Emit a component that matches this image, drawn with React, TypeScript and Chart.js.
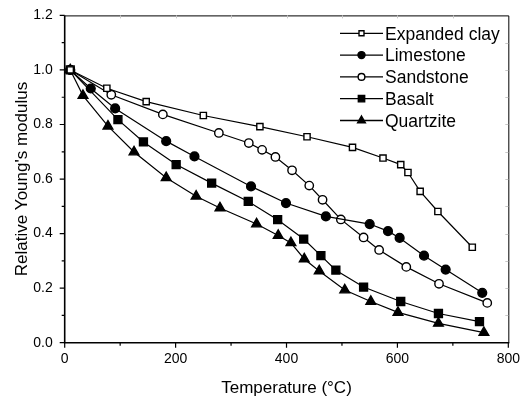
import React, { useEffect, useRef } from "react";
import { Chart, registerables } from "chart.js";

Chart.register(...registerables);

const FONT = "'Liberation Sans', Arial, sans-serif";

const xTickLabels = ["0", "200", "400", "600", "800"];
const yTickLabels = ["0.0", "0.2", "0.4", "0.6", "0.8", "1.0", "1.2"];

const seriesNames = ["Expanded clay", "Limestone", "Sandstone", "Basalt", "Quartzite"];

const clayT = [10, 76, 147, 250, 352, 437, 519, 574, 606, 619, 641, 673, 735];
const clayE = [1.0, 0.933, 0.884, 0.833, 0.792, 0.755, 0.716, 0.677, 0.653, 0.624, 0.555, 0.481, 0.35];

const limeT = [10, 47, 91, 183, 234, 336, 399, 471, 550, 583, 604, 648, 687, 753];
const limeE = [1.0, 0.932, 0.859, 0.739, 0.683, 0.573, 0.512, 0.463, 0.435, 0.409, 0.384, 0.319, 0.268, 0.183];

const sandT = [10, 84, 177, 278, 332, 356, 380, 410, 441, 465, 498, 539, 567, 616, 675, 762];
const sandE = [1.0, 0.909, 0.837, 0.769, 0.732, 0.707, 0.681, 0.632, 0.576, 0.524, 0.452, 0.386, 0.34, 0.278, 0.216, 0.146];

const basaltT = [10, 96, 142, 201, 265, 331, 384, 431, 462, 489, 539, 606, 674, 748];
const basaltE = [1.0, 0.818, 0.736, 0.653, 0.585, 0.518, 0.451, 0.38, 0.319, 0.266, 0.204, 0.151, 0.107, 0.077];

const quartzT = [10, 33, 78, 125, 183, 237, 280, 346, 385, 408, 432, 459, 505, 552, 601, 674, 756];
const quartzE = [1.0, 0.906, 0.794, 0.699, 0.605, 0.537, 0.494, 0.435, 0.393, 0.366, 0.307, 0.263, 0.193, 0.151, 0.111, 0.071, 0.037];

const toPts = (xs: number[], ys: number[]) => xs.map((x, i) => ({ x, y: ys[i] }));

type Marker = { style: string; filled: boolean; r: number };
const markers: Marker[] = [
  { style: "rect", filled: false, r: 4.4 },
  { style: "circle", filled: true, r: 4.4 },
  { style: "circle", filled: false, r: 4.2 },
  { style: "rect", filled: true, r: 5.6 },
  { style: "triangle", filled: true, r: 5.6 },
];

function drawMarker(ctx: CanvasRenderingContext2D, m: Marker, x: number, y: number) {
  ctx.save();
  ctx.beginPath();
  if (m.style === "rect") {
    const s = Math.SQRT1_2 * m.r;
    ctx.rect(x - s, y - s, 2 * s, 2 * s);
  } else if (m.style === "circle") {
    ctx.arc(x, y, m.r, 0, Math.PI * 2);
  } else {
    const r = m.r;
    ctx.moveTo(x, y - r);
    ctx.lineTo(x + r * Math.cos(Math.PI / 6), y + r / 2);
    ctx.lineTo(x - r * Math.cos(Math.PI / 6), y + r / 2);
    ctx.closePath();
  }
  ctx.fillStyle = m.filled ? "#000" : "#fff";
  ctx.fill();
  ctx.lineWidth = 1.4;
  ctx.strokeStyle = "#000";
  ctx.stroke();
  ctx.restore();
}

const framePlugin = {
  id: "frame",
  afterDraw(chart: any) {
    const { ctx, chartArea: a, scales } = chart;
    const xs = scales.x;
    const ys = scales.y;
    ctx.save();
    ctx.strokeStyle = "#000";
    ctx.lineWidth = 1;
    ctx.beginPath();
    ctx.moveTo(a.left, a.top + 0.5);
    ctx.lineTo(a.right + 0.5, a.top + 0.5);
    ctx.lineTo(a.right + 0.5, a.bottom);
    ctx.stroke();
    ctx.strokeStyle = "#c8c8c8";
    ctx.beginPath();
    for (let v = 100; v < 800; v += 100) {
      const px = Math.round(xs.getPixelForValue(v)) + 0.5;
      ctx.moveTo(px, a.top);
      ctx.lineTo(px, a.top + 3);
    }
    for (let k = 1; k < 12; k++) {
      const py = Math.round(ys.getPixelForValue(k / 10)) + 0.5;
      ctx.moveTo(a.right, py);
      ctx.lineTo(a.right - 3, py);
    }
    ctx.stroke();
    ctx.strokeStyle = "#000";
    ctx.lineWidth = 1.6;
    ctx.beginPath();
    ctx.moveTo(a.left, a.top);
    ctx.lineTo(a.left, a.bottom);
    ctx.lineTo(a.right + 1, a.bottom);
    ctx.stroke();
    ctx.lineWidth = 1.2;
    ctx.beginPath();
    for (let v = 0; v <= 800; v += 100) {
      const px = xs.getPixelForValue(v);
      const len = v % 200 === 0 ? 5 : 3;
      ctx.moveTo(px, a.bottom);
      ctx.lineTo(px, a.bottom + len);
    }
    for (let k = 0; k <= 12; k++) {
      const py = ys.getPixelForValue(k / 10);
      const len = k % 2 === 0 ? 5 : 3;
      ctx.moveTo(a.left, py);
      ctx.lineTo(a.left - len, py);
    }
    ctx.stroke();

    const rowY = [33.3, 55.1, 76.9, 98.7, 120.5];
    ctx.font = `17.5px ${FONT}`;
    ctx.textBaseline = "alphabetic";
    ctx.textAlign = "left";
    ctx.fillStyle = "#000";
    seriesNames.forEach((name, i) => {
      const y = rowY[i];
      ctx.strokeStyle = "#000";
      ctx.lineWidth = 1.3;
      ctx.beginPath();
      ctx.moveTo(340, y);
      ctx.lineTo(383, y);
      ctx.stroke();
      drawMarker(ctx, { ...markers[i], r: markers[i].r * 0.8 }, 361.5, y);
      ctx.fillText(name, 385, y + 6.2);
    });
    ctx.restore();
  },
};

export default function App() {
  const ref = useRef<HTMLCanvasElement | null>(null);
  useEffect(() => {
    if (!ref.current) return;
    const seriesData = [
      toPts(clayT, clayE),
      toPts(limeT, limeE),
      toPts(sandT, sandE),
      toPts(basaltT, basaltE),
      toPts(quartzT, quartzE),
    ];
    const chart = new Chart(ref.current, {
      type: "scatter",
      data: {
        datasets: seriesData.map((d, i) => ({
          label: seriesNames[i],
          data: d,
          showLine: true,
          borderColor: "#000",
          borderWidth: 1.2,
          pointStyle: markers[i].style as any,
          pointRadius: markers[i].r,
          pointBorderWidth: 1.4,
          pointBorderColor: "#000",
          pointBackgroundColor: markers[i].filled ? "#000" : "#fff",
          tension: 0,
        })),
      },
      options: {
        responsive: false,
        animation: false,
        layout: { padding: { left: 0, right: 12, top: 14, bottom: 0 } },
        plugins: { legend: { display: false }, tooltip: { enabled: false } },
        scales: {
          x: {
            type: "linear",
            min: 0,
            max: 800,
            afterBuildTicks: (s: any) => {
              s.ticks = xTickLabels.map((t) => ({ value: Number(t) }));
            },
            ticks: {
              color: "#000",
              font: { family: FONT, size: 14 },
              padding: 3,
              maxRotation: 0,
              callback: (v: any) => String(v),
            },
            grid: { display: true, drawOnChartArea: false, drawTicks: true, tickLength: 5, color: "rgba(0,0,0,0)" },
            border: { display: false },
            title: {
              display: true,
              text: "Temperature (°C)",
              color: "#000",
              font: { family: FONT, size: 17 },
              padding: { top: 0, bottom: 2 },
            },
            afterFit: (s: any) => {
              s.height = 58.3;
            },
          },
          y: {
            type: "linear",
            min: 0,
            max: 1.2,
            afterBuildTicks: (s: any) => {
              s.ticks = yTickLabels.map((t) => ({ value: Number(t) }));
            },
            ticks: {
              color: "#000",
              font: { family: FONT, size: 14 },
              padding: 7,
              callback: (v: any) => Number(v).toFixed(1),
            },
            grid: { display: true, drawOnChartArea: false, drawTicks: true, tickLength: 5, color: "rgba(0,0,0,0)" },
            border: { display: false },
            title: {
              display: true,
              text: "Relative Young's modulus",
              color: "#000",
              font: { family: FONT, size: 17 },
              padding: { top: 12, bottom: 0 },
            },
            afterFit: (s: any) => {
              s.width = 64.7;
            },
          },
        },
      },
      plugins: [framePlugin],
    });
    return () => chart.destroy();
  }, []);
  return (
    <div style={{ position: "fixed", left: 0, top: 0, width: 523, height: 401, background: "#fff" }}>
      <canvas ref={ref} width={523} height={401} style={{ width: 523, height: 401, display: "block" }} />
    </div>
  );
}
